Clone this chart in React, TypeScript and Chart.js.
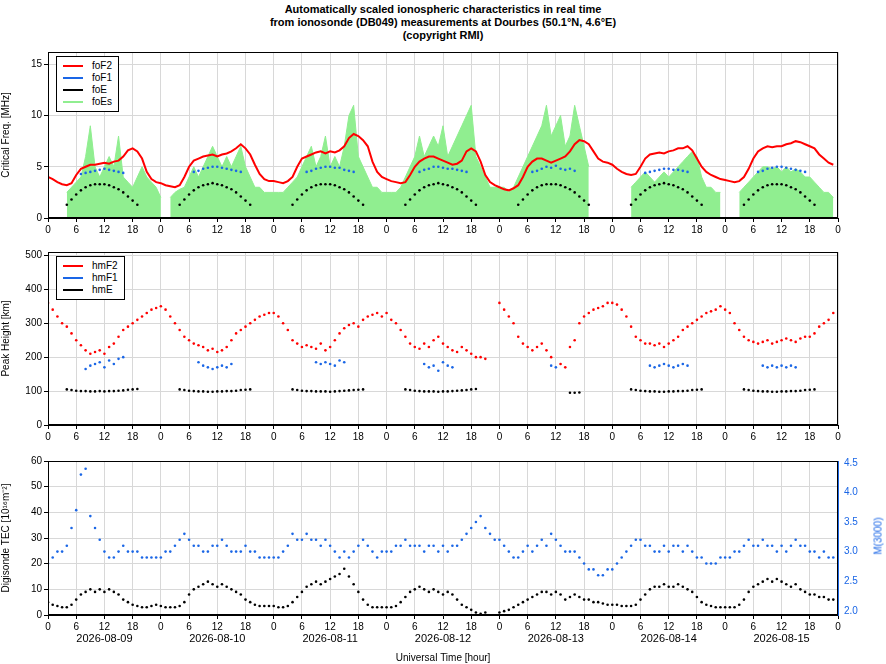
import React, { useEffect, useRef } from "react";
import { Chart, registerables } from "chart.js";
Chart.register(...registerables);

const DATES = ["2026-08-09","2026-08-10","2026-08-11","2026-08-12","2026-08-13","2026-08-14","2026-08-15"];
const N = null;
const foF2 = [
[4.0,3.8,3.5,3.3,3.2,3.4,4.2,4.8,5.0,5.2,5.2,5.3,5.4,5.3,5.5,5.6,6.0,6.6,6.8,6.5,5.8,4.5,3.8,3.5],
[3.4,3.2,3.1,3.0,3.2,4.0,5.0,5.6,5.8,6.0,6.1,6.2,6.0,6.2,6.3,6.5,6.8,7.2,6.8,6.2,5.2,4.3,3.8,3.6],
[3.6,3.5,3.4,3.6,4.0,5.0,5.8,6.0,6.2,6.4,6.5,6.3,6.5,6.4,6.6,7.0,7.8,8.2,8.0,7.6,7.0,5.5,4.5,4.0],
[3.8,3.6,3.5,3.4,3.5,4.2,5.0,5.5,5.8,6.0,6.0,5.8,5.6,5.4,5.2,5.3,5.6,6.5,6.8,6.5,5.5,4.2,3.5,3.2],
[3.0,2.8,2.7,2.9,3.2,4.0,5.0,5.5,5.8,5.8,5.6,5.4,5.6,5.8,6.0,6.5,7.2,7.6,7.5,7.2,6.5,5.8,5.5,5.4],
[5.2,4.8,4.5,4.3,4.2,4.3,5.0,5.8,6.2,6.3,6.4,6.3,6.5,6.6,6.8,6.8,7.0,6.6,5.8,5.0,4.5,4.2,4.0,3.8],
[3.7,3.6,3.5,3.6,4.0,4.8,5.8,6.5,6.8,7.0,6.9,7.0,7.0,7.2,7.3,7.5,7.4,7.2,7.0,6.8,6.2,5.8,5.4,5.2],
];
// foF1 hours 7..17
const foF1 = [
[4.3,4.4,4.5,4.6,4.7,4.8,4.7,4.6,4.5,4.4,N],
[4.5,4.6,4.8,4.9,5.0,5.0,4.9,4.8,4.7,4.6,4.5],
[4.5,4.6,4.8,4.9,5.0,5.0,4.9,4.9,4.7,4.6,4.5],
[4.5,4.7,4.8,5.0,5.0,4.9,4.8,4.8,4.7,4.6,4.5],
[4.5,4.6,4.8,5.0,4.9,5.1,4.8,4.7,4.8,4.6,N],
[4.4,4.5,4.6,4.7,4.8,4.8,4.7,4.7,4.6,4.5,N],
[4.5,4.6,4.8,4.9,5.0,5.0,4.9,4.8,4.7,4.6,4.5],
];
// foE hours 4..19
const foE = [
[1.3,1.8,2.3,2.7,3.0,3.2,3.3,3.3,3.3,3.2,3.0,2.8,2.5,2.1,1.7,1.3],
[1.3,1.8,2.3,2.7,3.0,3.2,3.3,3.4,3.3,3.2,3.0,2.8,2.5,2.1,1.7,1.3],
[1.3,1.8,2.3,2.7,3.0,3.2,3.3,3.3,3.3,3.2,3.0,2.8,2.5,2.1,1.7,1.3],
[1.3,1.8,2.3,2.7,3.0,3.2,3.3,3.4,3.3,3.2,3.0,2.8,2.5,2.1,1.7,1.3],
[1.3,1.8,2.3,2.7,3.0,3.2,3.3,3.3,3.3,3.2,3.0,2.8,2.5,2.1,1.7,1.3],
[1.3,1.8,2.3,2.7,3.0,3.2,3.3,3.4,3.3,3.2,3.0,2.8,2.5,2.1,1.7,1.3],
[1.3,1.8,2.3,2.7,3.0,3.2,3.3,3.3,3.3,3.2,3.0,2.8,2.5,2.1,1.7,1.3],
];
const foEs = [
[N,N,N,N,2.5,3,3.5,4,6,9,5,4,5,6,5,8,4,3.5,3,4,5,4,3.5,3],
[2,N,2,2.5,2.8,3,4,5,4,5,6,7,6,5,6,5,6,7,5,4,3,3,2.5,2.5],
[2.5,2.5,2.5,3,3.5,4,5,6,7,5,6,8,5,6,5,7,10,11,6,5,4,3,3,2.5],
[2.5,2.5,2.5,3,4,5,6,8,6,7,8,7,9,6,7,8,9,10,11,6,5,4,3,3],
[3,3,2.5,3,4,5,6,7,8,9,11,8,9,10,7,8,11,9,7,5,N,N,N,N],
[N,N,N,N,3,3.5,4,4.5,4,3.5,4,4.5,4,4.5,5,5.5,6,6.5,6,4,3,3,2.5,2.5],
[N,N,N,2.5,3,3.5,4,4.5,5,5,4.8,5,4.5,5,4.5,4.8,4.5,4,4,3.5,3,2.5,2.5,2],
];
const hmF2 = [
[360,340,320,300,290,270,250,235,220,210,215,220,210,230,240,260,280,290,300,310,320,330,340,345],
[350,340,320,300,280,260,250,240,235,230,220,225,215,220,230,250,270,280,290,300,310,320,325,330],
[330,320,300,280,250,240,230,235,230,225,240,220,230,250,270,285,295,300,290,310,320,325,330,320],
[330,310,300,280,260,240,230,225,240,230,250,260,240,230,220,215,230,220,210,200,200,195,N,N],
[360,340,320,300,260,240,230,220,230,240,220,200,N,180,170,230,250,300,320,330,340,345,350,360],
[360,355,340,320,290,260,250,240,240,235,240,230,240,250,260,280,290,300,310,320,330,335,340,350],
[340,330,300,280,260,250,245,240,245,250,240,245,250,255,250,245,255,260,260,270,290,300,310,330],
];
// hmF1 hours 8..16
const hmF1 = [
[165,175,180,185,170,190,180,195,200],
[185,175,170,165,170,175,170,180,N],
[N,185,180,185,180,175,190,185,N],
[180,170,175,160,185,175,170,N,N],
[N,N,N,175,170,N,N,N,N],
[175,170,175,180,175,170,175,180,175],
[175,170,175,170,175,170,175,170,N],
];
// hmE hours 4..19
const hmE = [
[105,103,101,100,100,99,99,100,99,100,100,101,102,104,105,106],
[105,103,101,100,99,99,98,98,99,99,100,100,101,103,104,105],
[105,103,101,100,100,99,99,99,98,99,100,101,102,103,104,105],
[105,103,101,100,99,99,99,98,99,99,100,101,102,103,105,106],
[N,N,N,N,N,N,N,N,N,N,N,95,95,96,N,N],
[105,103,101,100,99,99,98,98,99,99,100,100,101,103,104,105],
[105,103,101,100,99,99,98,98,99,99,100,100,101,103,104,105],
];
const TEC = [
[5,4,3.5,3,3,4,6,8,9,10,9,10,9,10,9,8,6,5,4,3.5,3,3,3.5,4],
[3.5,3,3,3,3.5,5,8,10,11,12,13,12,11,12,11,10,9,8,6,5,4,3.5,3.5,3.5],
[3.5,3,3,3.5,5,7,9,11,12,13,12,13,14,15,16,18,15,12,9,6,4,3,3,3],
[3,3,3.5,5,7,9,10,11,10,9,10,9,8,9,8,6,4,3,2,1,0.5,1,N,N],
[1,1.5,2,3,4,5,6,7,8,9,9,8,9,8,6,7,8,7,6,6,5,5,4.5,4],
[4,4,3.5,3.5,3.5,4,6,8,10,11,11,12,11,11,12,11,10,9,7,5,4,3.5,3,3],
[3,3,3,4,6,9,11,12,13,14,13,14,13,12,11,12,10,9,8,8,7,7,6,6],
];
const M3000 = [
[2.8,2.9,3.0,3.0,3.1,3.4,3.7,4.3,4.4,3.6,3.4,3.2,3.0,2.9,2.9,3.0,3.1,3.0,3.0,3.0,2.9,2.9,2.9,2.9],
[2.9,3.0,3.0,3.1,3.2,3.3,3.2,3.1,3.1,3.0,3.0,3.1,3.1,3.2,3.1,3.0,3.0,3.0,3.1,3.0,3.0,2.9,2.9,2.9],
[2.9,2.9,3.0,3.1,3.3,3.2,3.2,3.3,3.2,3.2,3.1,3.2,3.1,3.0,2.9,3.0,2.9,3.0,3.1,3.2,3.1,3.0,2.9,3.0],
[3.0,3.0,3.1,3.1,3.2,3.1,3.1,3.1,3.0,3.1,3.1,3.0,3.1,3.0,3.1,3.1,3.2,3.3,3.4,3.5,3.6,3.4,3.3,3.2],
[3.2,3.1,3.0,2.9,2.9,3.0,3.1,3.0,3.1,3.2,3.1,3.3,3.2,3.1,3.0,3.0,3.0,2.9,2.8,2.7,2.7,2.6,2.6,2.7],
[2.7,2.8,2.9,3.0,3.1,3.2,3.2,3.1,3.1,3.0,3.0,3.1,3.0,3.1,3.1,3.0,3.1,3.0,2.9,2.9,2.8,2.8,2.8,2.9],
[2.9,2.9,3.0,3.0,3.1,3.2,3.1,3.1,3.2,3.1,3.1,3.0,3.1,3.0,3.1,3.2,3.1,3.1,3.0,3.0,2.9,3.0,2.9,2.9],
];
const F_TICKS = [0, 5, 10, 15];
const H_TICKS = [0, 100, 200, 300, 400, 500];
const TEC_TICKS = [0, 10, 20, 30, 40, 50, 60];
const M_TICKS = [2.0, 2.5, 3.0, 3.5, 4.0, 4.5];

function pts(days: (number | null)[][], startHour = 0, split = false) {
  const out: { x: number; y: number | null }[] = [];
  days.forEach((arr, d) => {
    arr.forEach((v, i) => out.push({ x: d * 24 + startHour + i, y: v }));
    if (split) out.push({ x: d * 24 + startHour + arr.length - 0.5, y: null });
  });
  return out;
}

const FONT = "'Liberation Sans', Arial, sans-serif";
const LEFT = 48, RIGHT = 48;

const frame = {
  id: "frame",
  afterDraw(c: any) {
    const a = c.chartArea, ctx = c.ctx;
    ctx.save(); ctx.strokeStyle = "#000"; ctx.lineWidth = 1;
    ctx.strokeRect(a.left + 0.5, a.top + 0.5, a.width - 1, a.height - 1);
    ctx.restore();
  },
};

const dateLabels = {
  id: "dates",
  afterDraw(c: any) {
    const ctx = c.ctx, x = c.scales.x, a = c.chartArea;
    ctx.save(); ctx.fillStyle = "#000"; ctx.font = `11px ${FONT}`; ctx.textAlign = "center"; ctx.textBaseline = "top";
    DATES.forEach((d, i) => ctx.fillText(d, x.getPixelForValue(i * 24 + 12), a.bottom + 18));
    ctx.restore();
  },
};

function xScale(bottom: number, withDates: boolean) {
  return {
    type: "linear", min: 0, max: 168,
    afterFit: (s: any) => { s.height = bottom; },
    afterBuildTicks: (s: any) => { s.ticks = []; for (let h = 0; h <= 168; h += 6) s.ticks.push({ value: h }); },
    grid: { color: "#d8d8d8", drawTicks: true, tickLength: 4, tickColor: "#000" },
    border: { color: "#000" },
    title: withDates ? { display: true, text: "Universal Time [hour]", font: { family: FONT, size: 10 }, color: "#000", padding: 0 } : { display: false },
    ticks: {
      font: { family: FONT, size: 10 }, color: "#000", maxRotation: 0, autoSkip: false, padding: 2,
      callback: (v: number) => String(v % 24),
    },
  };
}

function yScale(min: number, max: number, ticks: number[], title: string, pos = "left", color = "#000", grid = true, dec = false) {
  return {
    type: "linear", position: pos, min, max,
    afterFit: (s: any) => { s.width = pos === "left" ? LEFT : RIGHT; },
    afterBuildTicks: (s: any) => { s.ticks = ticks.map((v) => ({ value: v })); },
    grid: { display: grid, color: "#d8d8d8", tickLength: 4, tickColor: color },
    border: { color },
    title: { display: pos === "left", text: title, font: { family: FONT, size: 10 }, color, padding: 0 },
    ticks: { font: { family: FONT, size: 10 }, color, padding: 2,
      callback: (v: number) => (dec ? v.toFixed(1) : String(v)) },
  };
}

const dots = (label: string, data: any, color: string, yAxisID = "y") => ({
  label, data, yAxisID, showLine: false, pointRadius: 1.3, pointBorderWidth: 0,
  pointBackgroundColor: color, borderColor: color, backgroundColor: color,
});

function Panel({ top, height, config }: any) {
  const ref = useRef<HTMLCanvasElement>(null);
  useEffect(() => {
    const c = new Chart(ref.current!, config);
    return () => c.destroy();
  }, []);
  return (
    <div style={{ position: "absolute", left: 0, top, width: 886, height }}>
      <canvas ref={ref} width={886} height={height} />
    </div>
  );
}

function baseOpts(scales: any, right: number) {
  return {
    responsive: false, animation: false,
    layout: { padding: { top: 4, right, left: 0, bottom: 0 } },
    plugins: { legend: { display: false }, tooltip: { enabled: false } },
    scales,
  };
}

function Legend({ left, top, items }: any) {
  return (
    <div style={{ position: "absolute", left, top, border: "1px solid #000", background: "#fff",
      padding: "3px 6px", font: `10px ${FONT}`, lineHeight: "12px" }}>
      {items.map(([t, c]: any) => (
        <div key={t} style={{ display: "flex", alignItems: "center" }}>
          <span style={{ display: "inline-block", width: 20, height: 2, background: c, marginRight: 9 }} />
          {t}
        </div>
      ))}
    </div>
  );
}

export default function App() {
  const p1 = {
    type: "line",
    data: { datasets: [
      { label: "foEs", data: pts(foEs), borderColor: "#90ee90", backgroundColor: "#90ee90", fill: "origin", pointRadius: 0, borderWidth: 1, spanGaps: false, order: 5 },
      { label: "foF2", data: pts(foF2), borderColor: "#ff0000", borderWidth: 2, pointRadius: 0 },
      dots("foF1", pts(foF1, 7), "#1a66e6"),
      dots("foE", pts(foE, 4), "#000"),
    ] },
    options: baseOpts({ x: xScale(22, false), y: yScale(0, 16.2, F_TICKS, "Critical Freq. [MHz]") }, RIGHT),
    plugins: [frame],
  };
  const p2 = {
    type: "line",
    data: { datasets: [
      dots("hmF2", pts(hmF2), "#ff0000"),
      dots("hmF1", pts(hmF1, 8), "#1a66e6"),
      dots("hmE", pts(hmE, 4), "#000"),
    ] },
    options: baseOpts({ x: xScale(22, false), y: yScale(0, 510, H_TICKS, "Peak Height [km]") }, RIGHT),
    plugins: [frame],
  };
  const p3 = {
    type: "line",
    data: { datasets: [
      dots("TEC", pts(TEC), "#000"),
      dots("M3000", pts(M3000), "#1a66e6", "y2"),
    ] },
    options: baseOpts({
      x: xScale(49, true),
      y: yScale(0, 60, TEC_TICKS, "Digisonde TEC [10¹⁶m⁻²]"),
      y2: yScale(1.93, 4.53, M_TICKS, "M(3000)", "right", "#1a66e6", false, true),
    }, 0),
    plugins: [frame, dateLabels],
  };
  return (
    <div style={{ position: "fixed", left: 0, top: 0, width: 886, height: 664, background: "#fff" }}>
      <div style={{ position: "absolute", left: 0, top: 3, width: 886, textAlign: "center",
        font: `bold 11px ${FONT}`, lineHeight: "13px" }}>
        <div>Automatically scaled ionospheric characteristics in real time</div>
        <div>from ionosonde (DB049) measurements at Dourbes (50.1°N, 4.6°E)</div>
        <div>(copyright RMI)</div>
      </div>
      <Panel top={44} height={196} config={p1} />
      <Panel top={244} height={203} config={p2} />
      <Panel top={453} height={211} config={p3} />
      <div style={{ position: "absolute", left: 878, top: 536, transform: "translate(-50%,-50%) rotate(-90deg)",
        font: `10px ${FONT}`, color: "#1a66e6", whiteSpace: "nowrap" }}>M(3000)</div>
      <Legend left={56} top={56} items={[["foF2", "#ff0000"], ["foF1", "#1a66e6"], ["foE", "#000"], ["foEs", "#90ee90"]]} />
      <Legend left={56} top={256} items={[["hmF2", "#ff0000"], ["hmF1", "#1a66e6"], ["hmE", "#000"]]} />
    </div>
  );
}
